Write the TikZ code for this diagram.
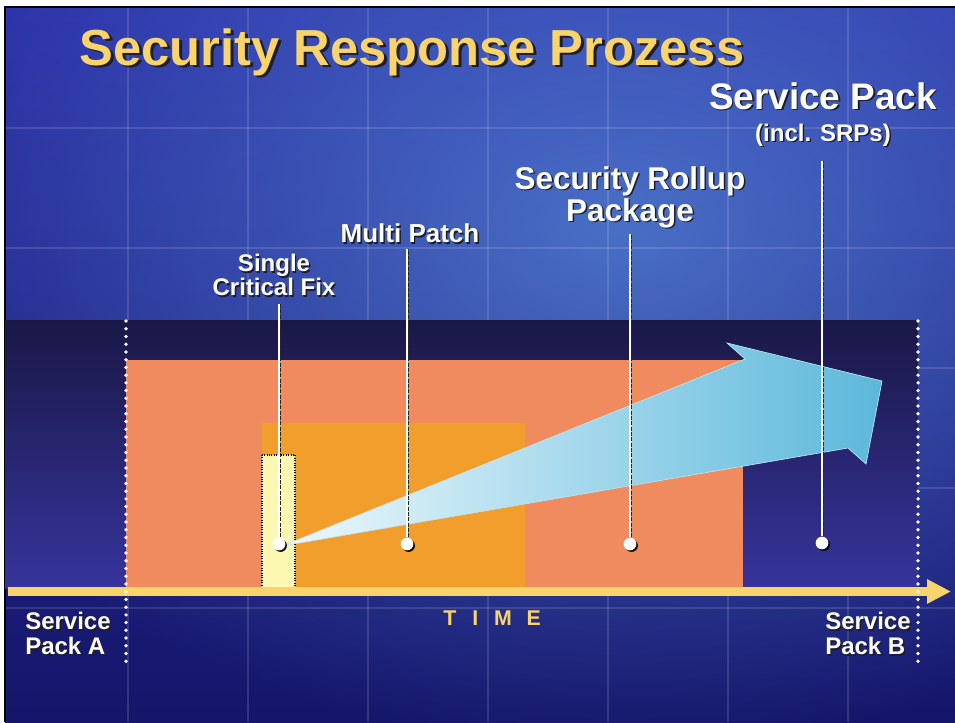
\documentclass[tikz,border=0pt]{standalone}
\usepackage{fontspec}
\setmainfont{Liberation Sans}
\usetikzlibrary{arrows.meta, shadows, fadings}

\definecolor{bgtop}{HTML}{2A2EA6}
\definecolor{bgbottom}{HTML}{15166A}
\definecolor{bghi}{HTML}{5A8EDC}
\definecolor{bandtop}{HTML}{1A1846}
\definecolor{bandbottom}{HTML}{36349C}
\definecolor{salmon}{HTML}{F08A5F}
\definecolor{patchorange}{HTML}{F29E2C}
\definecolor{fixyellow}{HTML}{FCF8B2}
\definecolor{axisyellow}{HTML}{F9D36C}
\definecolor{titleyellow}{HTML}{F9D46A}
\definecolor{arrowlight}{HTML}{EEF8FC}
\definecolor{arrowdark}{HTML}{5BB8DB}
\definecolor{txtshadow}{HTML}{1E1E2A}

% text with a small drop shadow
\newcommand{\shd}[2][1.1pt]{\leavevmode\rlap{\kern#1\raisebox{-#1}{\color{txtshadow}#2}}#2}

\tikzfading[name=glow, inner color=transparent!30, outer color=transparent!100]

\tikzset{
  gridline/.style={white, opacity=0.13, line width=0.8pt},
  lbl/.style={text=white, font=\bfseries, align=center, inner sep=0pt},
  pin line/.style={white, line width=0.8pt,
    preaction={draw=black!85, line width=0.7pt, dash pattern=on 3pt off 1pt,
      transform canvas={xshift=1.3pt}}},
  pin dot/.style={circle, fill=white, minimum size=9.5pt, inner sep=0pt,
    drop shadow={shadow xshift=1.2pt, shadow yshift=-1.2pt, fill=black, opacity=0.9}},
  sp border/.style={white, line width=2.8pt, line cap=round, dash pattern=on 0pt off 5.8pt},
  timeline/.style={axisyellow, line width=6.75pt, -{Triangle[length=18pt, width=17.25pt]}},
}

\begin{document}
\begin{tikzpicture}[x=0.75pt, y=-0.75pt]
\useasboundingbox (0,0) rectangle (955,722);
\fill[white] (0,0) rectangle (955,722);

% slide background
\begin{scope}
  \clip (5,7) rectangle (955,722);
  \shade[top color=bgtop, bottom color=bgbottom] (5,7) rectangle (955,722);
  \fill[bghi, path fading=glow] (620,230) ellipse [x radius=760, y radius=520];
  \foreach \gx in {128,248,...,848} \draw[gridline] (\gx,7) -- (\gx,722);
  \foreach \gy in {128,248,...,608} \draw[gridline] (5,\gy) -- (955,\gy);
\end{scope}
\draw[black, line width=1.5pt] (5,722) -- (5,7) -- (955,7);

% title
\node[text=titleyellow, font=\bfseries\fontsize{38}{40}\selectfont, anchor=base, inner sep=0pt]
  (title) at (412,65) {\shd[2pt]{Security Response Prozess}};

% time band
\shade[top color=bandtop, bottom color=bandbottom] (5,320) rectangle (918,588);
\fill[salmon] (126,360) rectangle (743,588);
\fill[patchorange] (262,423) rectangle (525,588);
\filldraw[fill=fixyellow, draw=black, densely dotted, line width=0.8pt] (262,455) rectangle (295,588);

% growing arrow
\shadedraw[left color=arrowlight, right color=arrowdark, draw=white!60!arrowdark, line width=0.5pt]
  (282,546) -- (745,359) -- (727,343) -- (882,381) -- (866,464) -- (848,448) -- cycle;

% time axis
\coordinate (tStart) at (8,591.5);
\coordinate (tEnd) at (951,591.5);
\draw[timeline] (tStart) -- (tEnd);
\node[text=axisyellow, font=\bfseries\fontsize{16}{18}\selectfont, anchor=base west, inner sep=0pt]
  (time) at (443,625) {T\kern12pt I\kern12pt M\kern11pt E};

% service pack borders
\coordinate (spaTop) at (126,321);
\coordinate (spaBot) at (126,664);
\coordinate (spbTop) at (918,321);
\coordinate (spbBot) at (918,664);
\draw[sp border] (spaTop) -- (spaBot);
\draw[sp border] (spbTop) -- (spbBot);
\node[lbl, align=left, anchor=north west, font=\bfseries\fontsize{18}{18.75}\selectfont]
  (spA) at (25,612) {\shd{Service}\\\shd{Pack A}};
\node[lbl, align=left, anchor=north west, font=\bfseries\fontsize{18}{18.75}\selectfont]
  (spB) at (825,612) {\shd{Service}\\\shd{Pack B}};

% release labels
\node[lbl, font=\bfseries\fontsize{18}{18}\selectfont] (scfLabel) at (274,276) {\shd{Single}\\\shd{Critical Fix}};
\node[lbl, font=\bfseries\fontsize{19.5}{20}\selectfont] (mpLabel) at (410,234) {\shd{Multi Patch}};
\node[lbl, font=\bfseries\fontsize{23.6}{22.5}\selectfont] (srpLabel) at (630,198) {\shd{Security Rollup}\\\shd{Package}};
\node[lbl, font=\bfseries\fontsize{27.7}{24}\selectfont] (spLabel) at (823,115)
  {\shd{Service Pack}\\{\fontsize{18}{20}\selectfont\shd{(incl. SRPs)}}};

% release points
\node[pin dot] (scfDot) at (279,544) {};
\node[pin dot] (mpDot) at (407,544) {};
\node[pin dot] (srpDot) at (630,544) {};
\node[pin dot] (spDot) at (822,543) {};
\draw[pin line, shorten >=5pt] (scfDot.north) -- (scfDot |- scfLabel.south);
\draw[pin line, shorten >=3pt] (mpDot.north) -- (mpDot |- mpLabel.south);
\draw[pin line, shorten >=3pt] (srpDot.north) -- (srpDot |- srpLabel.south);
\draw[pin line, shorten >=10pt] (spDot.north) -- (spDot |- spLabel.south);
\end{tikzpicture}
\end{document}
